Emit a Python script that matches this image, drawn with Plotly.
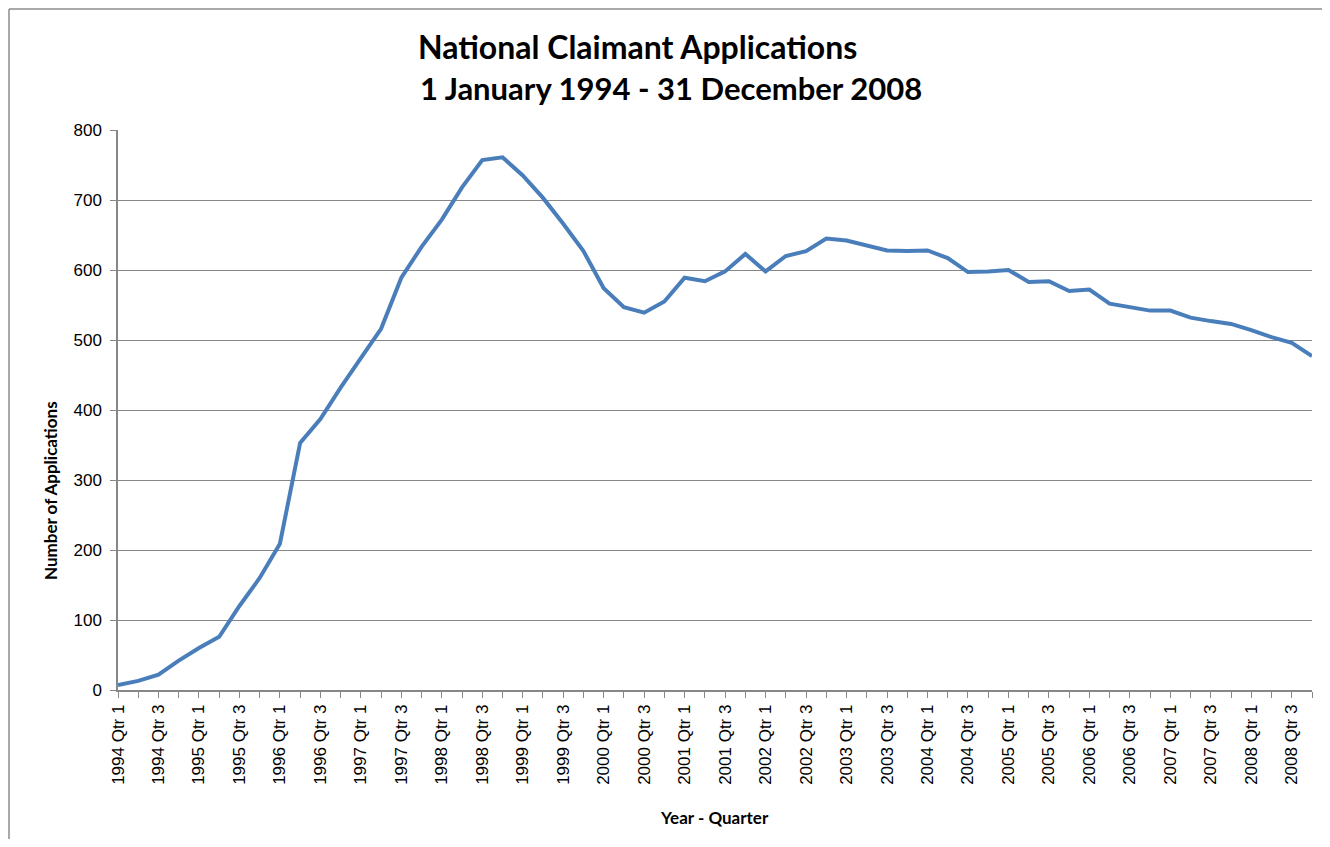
import plotly.graph_objects as go

quarters = [
    "1994 Qtr 1", "1994 Qtr 2", "1994 Qtr 3", "1994 Qtr 4",
    "1995 Qtr 1", "1995 Qtr 2", "1995 Qtr 3", "1995 Qtr 4",
    "1996 Qtr 1", "1996 Qtr 2", "1996 Qtr 3", "1996 Qtr 4",
    "1997 Qtr 1", "1997 Qtr 2", "1997 Qtr 3", "1997 Qtr 4",
    "1998 Qtr 1", "1998 Qtr 2", "1998 Qtr 3", "1998 Qtr 4",
    "1999 Qtr 1", "1999 Qtr 2", "1999 Qtr 3", "1999 Qtr 4",
    "2000 Qtr 1", "2000 Qtr 2", "2000 Qtr 3", "2000 Qtr 4",
    "2001 Qtr 1", "2001 Qtr 2", "2001 Qtr 3", "2001 Qtr 4",
    "2002 Qtr 1", "2002 Qtr 2", "2002 Qtr 3", "2002 Qtr 4",
    "2003 Qtr 1", "2003 Qtr 2", "2003 Qtr 3", "2003 Qtr 4",
    "2004 Qtr 1", "2004 Qtr 2", "2004 Qtr 3", "2004 Qtr 4",
    "2005 Qtr 1", "2005 Qtr 2", "2005 Qtr 3", "2005 Qtr 4",
    "2006 Qtr 1", "2006 Qtr 2", "2006 Qtr 3", "2006 Qtr 4",
    "2007 Qtr 1", "2007 Qtr 2", "2007 Qtr 3", "2007 Qtr 4",
    "2008 Qtr 1", "2008 Qtr 2", "2008 Qtr 3", "2008 Qtr 4",
]

applications = [
    7, 13, 22, 42, 60, 76, 120, 160,
    209, 353, 387, 432, 474, 516, 589, 633,
    672, 718, 757, 761, 735, 703, 666, 627,
    574, 547, 539, 555, 589, 584, 598, 623,
    598, 620, 627, 645, 642, 635, 628, 627,
    628, 617, 597, 598, 600, 583, 584, 570,
    572, 552, 547, 542, 542, 532, 527, 523,
    514, 504, 496, 477,
]

y_ticks = [0, 100, 200, 300, 400, 500, 600, 700, 800]

tick_text = [q if i % 2 == 0 else "" for i, q in enumerate(quarters)]

# page has an 8px body margin; figure is sized to fit without scrolling
OFF = 8
W, H = 1330 - 2 * OFF, 847 - 2 * OFF
# target plot area in page pixels: x 118..1312, y 130..690
L = 118 - OFF
T = 130 - OFF
R = W - (1312 - OFF)
B = H - (690 - OFF)
pw, ph = W - L - R, H - T - B


def px(x):
    """page x pixel -> paper x"""
    return (x - OFF - L) / pw


def py(y):
    """page y pixel -> paper y"""
    return (H - B - (y - OFF)) / ph


fig = go.Figure()
fig.add_trace(go.Scatter(
    x=quarters, y=applications, mode="lines",
    line=dict(color="#4A7EBB", width=4),
    showlegend=False, hoverinfo="x+y",
))

grey = "#878787"
border = "#8c8c8c"
tick_font = dict(size=17, family="Liberation Sans, Arial, sans-serif", color="black")
fig.update_layout(
    width=W, height=H,
    margin=dict(l=L, r=R, t=T, b=B),
    paper_bgcolor="white", plot_bgcolor="white",
    font=dict(family="Liberation Sans, Arial, sans-serif", color="black"),
    xaxis=dict(
        type="category", range=[0, len(quarters) - 1],
        tickmode="array", tickvals=quarters, ticktext=tick_text,
        tickangle=-90, tickfont=tick_font,
        ticks="outside", ticklen=6, tickcolor=grey, tickwidth=1,
        showline=True, linecolor=grey, linewidth=1.5,
        showgrid=False, zeroline=False, automargin=False,
    ),
    yaxis=dict(
        range=[0, 800], tickvals=y_ticks,
        tickfont=tick_font,
        ticks="outside", ticklen=6, tickcolor=grey, tickwidth=1,
        showline=True, linecolor=grey, linewidth=1.5,
        showgrid=True, gridcolor=grey, gridwidth=1,
        zeroline=False, automargin=False, ticklabelstandoff=5,
    ),
    shapes=[
        dict(type="line", xref="paper", yref="paper",
             x0=px(9), x1=px(1340), y0=py(9), y1=py(9),
             line=dict(color=border, width=1.5), layer="below"),
        dict(type="line", xref="paper", yref="paper",
             x0=px(9), x1=px(9), y0=py(9), y1=py(860),
             line=dict(color=border, width=1.5), layer="below"),
    ],
    annotations=[
        dict(text="<b>National Claimant Applications</b>", xref="paper", yref="paper",
             x=px(637), y=py(46), xanchor="center", yanchor="middle", showarrow=False,
             font=dict(family="Lato, sans-serif", size=32)),
        dict(text="<b>1 January 1994 - 31 December 2008</b>", xref="paper", yref="paper",
             x=px(671), y=py(88), xanchor="center", yanchor="middle", showarrow=False,
             font=dict(family="Lato, sans-serif", size=31)),
        dict(text="<b>Number of Applications</b>", xref="paper", yref="paper",
             x=px(51), y=py(491), xanchor="center", yanchor="middle", showarrow=False,
             textangle=-90, font=dict(family="Lato, sans-serif", size=17)),
        dict(text="<b>Year - Quarter</b>", xref="paper", yref="paper",
             x=px(714), y=py(817), xanchor="center", yanchor="middle", showarrow=False,
             font=dict(family="Lato, sans-serif", size=17)),
    ],
)

fig.write_html("out.html")
